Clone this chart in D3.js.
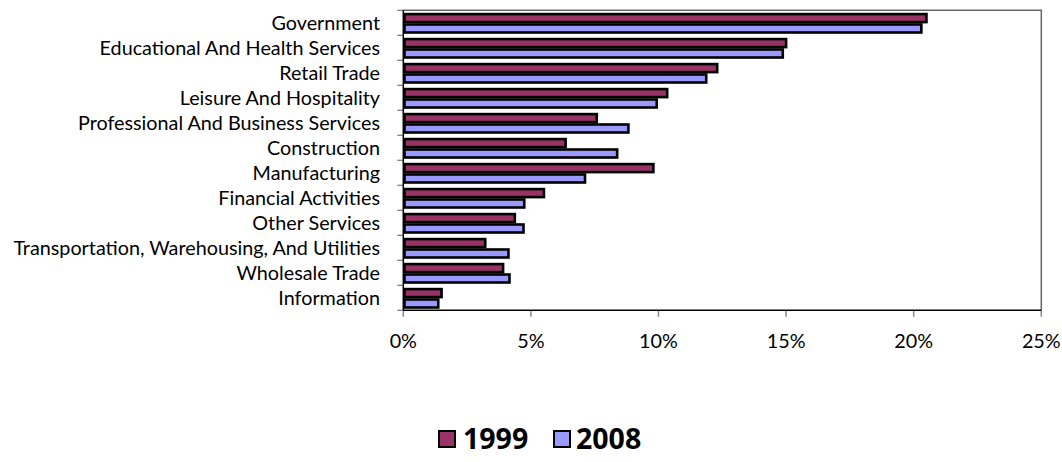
<!DOCTYPE html>
<html>
<head>
<meta charset="utf-8">
<script src="https://cdn.jsdelivr.net/npm/d3@7"></script>
<style>
  html, body { margin: 0; padding: 0; background: #fff; }
  svg { display: block; }
</style>
</head>
<body>
<svg id="chart" width="1062" height="462"></svg>
<script>
const categories = [
  "Government",
  "Educational And Health Services",
  "Retail Trade",
  "Leisure And Hospitality",
  "Professional And Business Services",
  "Construction",
  "Manufacturing",
  "Financial Activities",
  "Other Services",
  "Transportation, Warehousing, And Utilities",
  "Wholesale Trade",
  "Information"
];
const seriesNames = ["1999", "2008"];
const values1999 = [20.5, 15.0, 12.3, 10.34, 7.58, 6.36, 9.8, 5.51, 4.37, 3.21, 3.91, 1.5];
const values2008 = [20.3, 14.87, 11.87, 9.93, 8.82, 8.38, 7.12, 4.74, 4.71, 4.12, 4.16, 1.37];
const xTicks = [0, 5, 10, 15, 20, 25];
const colors = ["#993366", "#9999FF"];

(function () {
const svg = d3.select("#chart");
const plotLeft = 403.3, plotRight = 1041.3, plotTop = 10.3, plotBottom = 310.3;
const labelFont = "Lato, 'Open Sans', sans-serif";

const x = d3.scaleLinear().domain([0, 25]).range([plotLeft, plotRight]);
const y = d3.scaleBand().domain(categories).range([plotTop, plotBottom]).paddingInner(0).paddingOuter(0);
const ySub = d3.scaleBand().domain(seriesNames).range([2.6, y.bandwidth() - 1.6]).padding(0);

const seriesValues = [values1999, values2008];

// plot border (top & right)
svg.append("path")
  .attr("d", `M${plotLeft},${plotTop}H${plotRight}V${plotBottom}`)
  .attr("fill", "none").attr("stroke", "#666").attr("stroke-width", 1.5);

// bars
seriesNames.forEach((s, si) => {
  svg.append("g").selectAll("rect")
    .data(categories.map((c, i) => ({c, v: seriesValues[si][i]})))
    .join("rect")
    .attr("x", x(0) + 1.2)
    .attr("y", d => y(d.c) + ySub(s) + 1.2)
    .attr("width", d => Math.max(0, x(d.v) - x(0) - 1.2))
    .attr("height", ySub.bandwidth() - 2.4)
    .attr("fill", colors[si])
    .attr("stroke", "#000")
    .attr("stroke-width", 2.6);
});

// y axis: boundary ticks
const yBoundaries = categories.map(c => y(c)).concat([plotBottom]);
svg.append("g").selectAll("line").data(yBoundaries).join("line")
  .attr("x1", plotLeft - 6).attr("x2", plotLeft)
  .attr("y1", d => d).attr("y2", d => d)
  .attr("stroke", "#777").attr("stroke-width", 1.2);

// x axis ticks
svg.append("g").selectAll("line").data(xTicks).join("line")
  .attr("x1", d => x(d)).attr("x2", d => x(d))
  .attr("y1", plotBottom).attr("y2", plotBottom + 6.4)
  .attr("stroke", "#888").attr("stroke-width", 1.5);

// axis lines
svg.append("line").attr("x1", plotLeft).attr("x2", plotLeft).attr("y1", plotTop).attr("y2", plotBottom)
  .attr("stroke", "#000").attr("stroke-width", 1.5);
svg.append("line").attr("x1", plotLeft).attr("x2", plotRight).attr("y1", plotBottom).attr("y2", plotBottom)
  .attr("stroke", "#000").attr("stroke-width", 1.5);

// category labels
const labels = svg.append("g").selectAll("text").data(categories).join("text")
  .attr("x", 380)
  .attr("y", d => y(d) + y.bandwidth() / 2)
  .attr("dy", "0.35em")
  .attr("text-anchor", "end")
  .attr("font-family", labelFont)
  .attr("font-size", 16)
  .attr("fill", "#000")
  .text(d => d);

// fit label font size so the longest label spans the reference width
let maxW = 0;
labels.each(function() { maxW = Math.max(maxW, this.getComputedTextLength()); });
const fs = 16 * 367 / maxW;
labels.attr("font-size", fs);

// x tick labels
svg.append("g").selectAll("text").data(xTicks).join("text")
  .attr("x", d => x(d))
  .attr("y", 348)
  .attr("text-anchor", "middle")
  .attr("font-family", labelFont)
  .attr("font-size", fs)
  .attr("fill", "#000")
  .text(d => d + "%");

// legend
const legendItems = [
  {name: seriesNames[0], color: colors[0], sx: 439, tx: 463},
  {name: seriesNames[1], color: colors[1], sx: 554, tx: 576}
];
const lg = svg.append("g");
legendItems.forEach(it => {
  lg.append("rect").attr("x", it.sx).attr("y", 431).attr("width", 16).attr("height", 16)
    .attr("fill", it.color).attr("stroke", "#000").attr("stroke-width", 2);
  lg.append("text").attr("x", it.tx).attr("y", 449)
    .attr("font-family", "'Open Sans', sans-serif").attr("font-weight", "bold")
    .attr("font-size", 28.5).attr("fill", "#000").text(it.name);
});
})();
</script>
</body>
</html>
